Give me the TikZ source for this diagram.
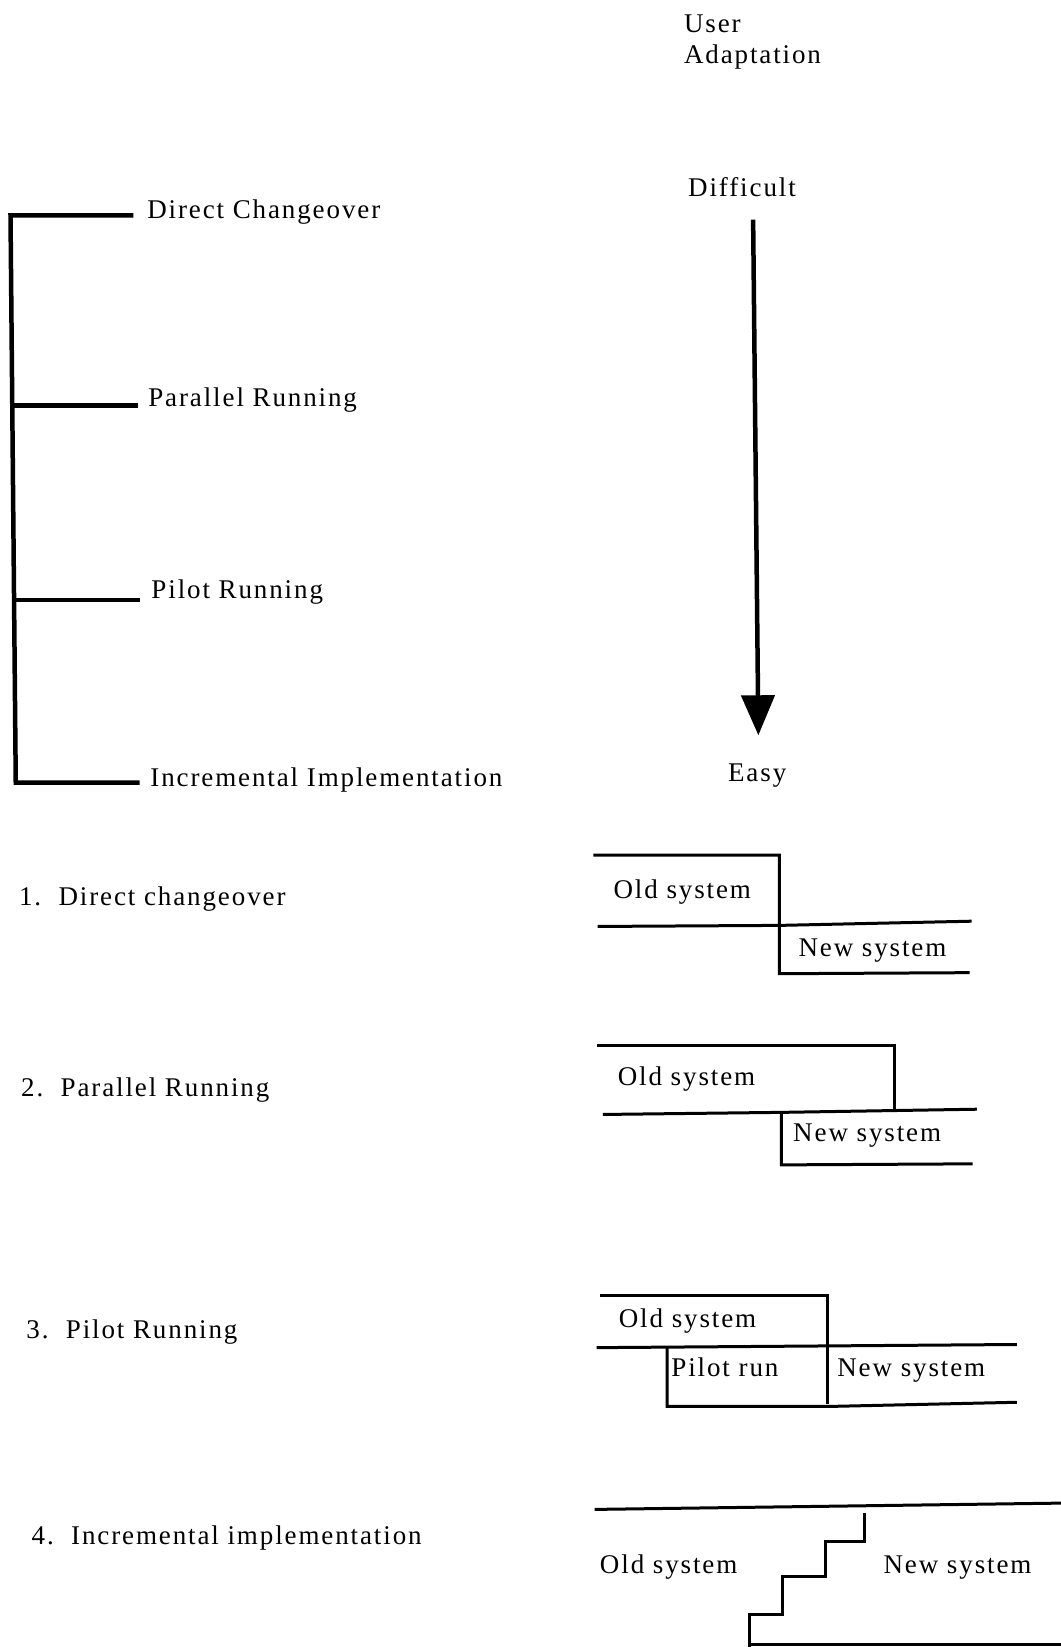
\documentclass[tikz,border=0pt]{standalone}
\usepackage{fontspec}
\setmainfont{Liberation Serif}[LetterSpace=7]
\usetikzlibrary{arrows.meta}
\begin{document}
\begin{tikzpicture}[x=1.0505pt,y=-1.0505pt,
  lbl/.style={anchor=base west,inner sep=0pt,font=\fontsize{27}{32}\selectfont},
  brk/.style={line width=4.5pt,line join=miter},
  bar/.style={line width=3pt,line join=miter},
  shaft/.style={line width=4.5pt,-{Triangle[width=33pt,length=40pt]}}]
\useasboundingbox (0,0) rectangle (1010,1568);

% --- heading of the adaptation scale
\node[lbl] (user) at (651,31) {User};
\node[lbl] (adapt) at (651,60) {Adaptation};
\node[lbl] (diff) at (655,187) {Difficult};
\node[lbl] (easy) at (693,744) {Easy};
\coordinate (atop) at (717,209);
\coordinate (atip) at (722,700);
\draw[shaft] (atop) -- (atip);

% --- bracket listing the four methods
\coordinate (b1) at (10,205);
\coordinate (b4) at (15,745);
\draw[brk] (127,205) -- (b1) -- (b4) -- (133,745);
\draw[brk] (11.7,386) -- (131,386);
\draw[brk] (13.4,571) -- (133,571);
\node[lbl] (m1) at (140,208) {Direct Changeover};
\node[lbl] (m2) at (141,387) {Parallel Running};
\node[lbl] (m3) at (144,570) {Pilot Running};
\node[lbl] (m4) at (143,749) {Incremental Implementation};

% --- 1. direct changeover
\node[lbl] (n1) at (18,862) {1.\ \ Direct changeover};
\draw[bar] (565,814) -- (742,814) -- (742,927) -- (923,926);
\draw[bar] (569,882) -- (742,881) -- (925,877);
\node[lbl] (o1) at (584,855) {Old system};
\node[lbl] (w1) at (760,911) {New system};

% --- 2. parallel running
\node[lbl] (n2) at (20,1044) {2.\ \ Parallel Running};
\draw[bar] (568,995) -- (852,995) -- (852,1057);
\draw[bar] (574,1061) -- (744,1059) -- (930,1056);
\draw[bar] (744,1059) -- (744,1109) -- (926,1108);
\node[lbl] (o2) at (588,1033) {Old system};
\node[lbl] (w2) at (755,1087) {New system};

% --- 3. pilot running
\node[lbl] (n3) at (25,1274) {3.\ \ Pilot Running};
\draw[bar] (571,1233) -- (788,1233) -- (788,1337);
\draw[bar] (568,1283) -- (968,1280);
\draw[bar] (635,1283) -- (635,1339) -- (788,1339) -- (968,1335);
\node[lbl] (o3) at (589,1264) {Old system};
\node[lbl] (p3) at (639,1310) {Pilot run};
\node[lbl] (w3) at (797,1310) {New system};

% --- 4. incremental implementation
\node[lbl] (n4) at (30,1470) {4.\ \ Incremental implementation};
\draw[bar] (566,1437) -- (1010,1431);
\draw[bar] (823,1440) -- (823,1468) -- (786,1468) -- (786,1501) -- (745,1501)
  -- (745,1537) -- (714,1537) -- (714,1568);
\draw[bar] (714,1566) -- (1010,1566);
\node[lbl] (o4) at (571,1498) {Old system};
\node[lbl] (w4) at (841,1498) {New system};
\end{tikzpicture}
\end{document}
